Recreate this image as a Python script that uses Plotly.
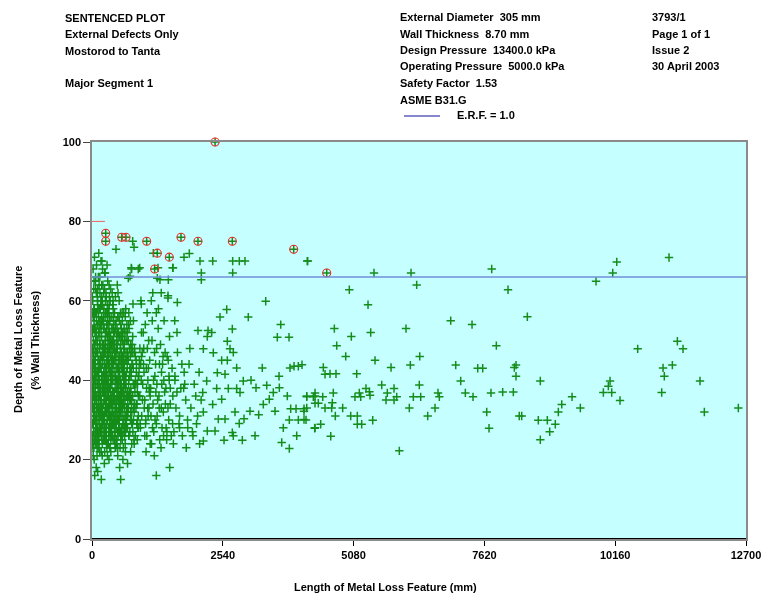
import plotly.graph_objects as go

# ---- Defect data: length (mm) and depth (% wall thickness) ----
# Dense population of short defects
cluster_len = [
    25, 60, 95, 130, 170, 210, 250, 290, 330, 370, 410, 450, 490, 530, 570, 610, 650, 700, 750, 800,
    40, 75, 115, 150, 190, 230, 270, 310, 350, 390, 430, 470, 510, 550, 590, 630, 675, 720, 770, 820,
    15, 50, 85, 120, 160, 200, 240, 280, 320, 360, 400, 440, 480, 520, 560, 600, 640, 690, 740, 790,
    30, 70, 105, 140, 180, 220, 260, 300, 340, 380, 420, 460, 500, 540, 580, 620, 660, 710, 760, 840,
    20, 55, 90, 125, 165, 205, 245, 285, 325, 365, 405, 445, 485, 525, 565, 605, 645, 695, 745, 860,
    35, 80, 110, 145, 185, 225, 265, 305, 345, 385, 425, 465, 505, 545, 585, 625, 665, 715, 765, 880,
    10, 45, 100, 135, 175, 215, 255, 295, 335, 375, 415, 455, 495, 535, 575, 615, 655, 705, 755, 900,
    28, 65, 98, 138, 178, 218, 258, 298, 338, 378, 418, 458, 498, 538, 578, 618, 668, 718, 780, 920,
    18, 58, 92, 128, 168, 208, 248, 288, 328, 368, 408, 448, 488, 528, 568, 608, 648, 698, 748, 940,
    38, 72, 108, 148, 188, 228, 268, 308, 348, 388, 428, 468, 508, 548, 588, 628, 672, 722, 772, 960,
    22, 48, 68, 88, 112, 132, 152, 172, 192, 212, 232, 252, 272, 292, 312, 332, 352, 372, 392, 412,
    12, 32, 52, 78, 102, 122, 142, 162, 182, 202, 222, 242, 262, 282, 302, 322, 342, 362, 382, 402,
    42, 62, 82, 118, 158, 198, 238, 278, 318, 358, 398, 438, 478, 518, 558, 598, 638, 682, 732, 785,
    8, 26, 46, 66, 86, 106, 126, 146, 166, 186, 206, 226, 246, 266, 286, 306, 326, 346, 366, 386,
    16, 36, 56, 76, 96, 116, 136, 156, 176, 196, 216, 236, 256, 276, 296, 316, 336, 356, 376, 396,
    420, 445, 470, 495, 520, 545, 570, 595, 620, 645, 670, 695, 725, 750, 775, 805, 830, 855, 885, 915,
    435, 460, 485, 510, 535, 560, 585, 610, 635, 660, 685, 710, 735, 760, 790, 815, 845, 870, 900, 930,
    980, 1010, 1040, 1075, 1105, 1140, 1170, 1200, 1235, 1265, 1300, 1330, 1360, 1395, 1425, 1460, 1490, 1520, 1555, 1590,
    995, 1025, 1060, 1090, 1120, 1155, 1185, 1220, 1250, 1285, 1315, 1345, 1380, 1410, 1440, 1475, 1505, 1540, 1570, 1610,
    1630, 1660, 1690, 1725, 1755, 1790, 1820, 1855, 1885, 1920, 1950, 1985, 2015, 2050, 2080, 950, 1070, 1180, 1290, 1400,
    1050, 1130, 1210, 1340, 1450, 1580, 1700, 1830, 1960, 2090, 960, 1100, 1240, 1370, 1500, 1650, 1780, 1900, 2030, 2120,
    52, 181, 557, 1249, 1509, 538, 110, 240, 330, 690, 150, 300, 450, 600, 750, 200, 350, 500, 650, 820,
    14, 44, 74, 104, 134, 164, 194, 224, 254, 284, 314, 344, 374, 404, 434, 464, 494, 524, 554, 584,
    29, 59, 89, 119, 149, 179, 209, 239, 269, 299, 329, 359, 389, 419, 449, 479, 509, 539, 569, 599,
    614, 644, 674, 704, 734, 764, 794, 824, 854, 884, 624, 654, 684, 714, 744, 774, 804, 834, 864, 894,
    6, 24, 41, 59, 77, 94, 113, 131, 149, 167, 184, 203, 221, 239, 257, 276, 294, 311, 329, 347,
    366, 384, 402, 421, 439, 457, 476, 494, 512, 531, 549, 567, 586, 604, 622, 641, 659, 677, 696, 714,
    11, 33, 57, 81, 103, 127, 151, 173, 197, 219, 243, 267, 289, 313, 337, 361, 383, 407, 431, 453,
    733, 751, 769, 787, 806, 824, 842, 861, 879, 897, 477, 499, 521, 543, 567, 589, 611, 633, 657, 679,
    19, 49, 79, 109, 139, 169, 199, 229, 259, 289, 319, 349, 379, 409, 439, 469, 499, 529, 559, 589,
    1000, 1045, 1085, 1130, 1175, 1215, 1260, 1305, 1350, 1390, 1435, 1480, 1520, 1565, 1610, 1650, 1700, 1745, 1800, 1860,
    935, 955, 975, 1015, 1035, 1065, 1095, 1115, 1145, 1165, 1195, 1225, 1255, 1275, 1310, 1355, 1385, 1420, 1455, 1495,
    5, 21, 37, 53, 69, 85, 101, 117, 133, 149, 165, 181, 197, 213, 229, 245, 261, 277, 293, 309,
    325, 341, 357, 373, 389, 405, 421, 437, 453, 469, 485, 501, 517, 533, 549, 565, 581, 597, 613, 629,
    9, 27, 43, 61, 79, 97, 113, 129, 147, 163, 181, 199, 215, 233, 249, 267, 283, 301, 317, 335,
    351, 369, 387, 403, 419, 437, 453, 471, 487, 505, 521, 539, 555, 573, 589, 607, 623, 641, 661, 681,
    13, 31, 47, 63, 83, 99, 115, 137, 153, 171, 187, 205, 223, 241, 259, 275, 291, 309, 327, 343,
    361, 379, 397, 415, 433, 451, 467, 483, 503, 519, 537, 553, 571, 587, 603, 621, 639, 663, 687, 709,
    7, 23, 39, 55, 71, 87, 107, 123, 139, 155, 171, 189, 207, 225, 243, 263, 279, 297, 315, 333,
    727, 745, 763, 783, 801, 819, 837, 857, 875, 893, 911, 929, 947, 965, 985, 1005, 1025, 1055, 1080, 1110,
    4, 17, 34, 51, 66, 83, 96, 111, 126, 141, 156, 172, 187, 202, 218, 234, 249, 264, 281, 296,
    312, 327, 343, 358, 374, 391, 406, 422, 438, 455, 471, 488, 504, 521, 538, 556, 574, 592, 611, 632,
    2, 19, 36, 54, 72, 88, 106, 121, 136, 152, 169, 186, 201, 217, 232, 247, 263, 279, 295, 311,
    328, 345, 362, 377, 394, 411, 428, 446, 463, 481, 497, 515, 532, 551, 570, 588, 606, 626, 646, 666,
    3, 15, 29, 45, 58, 73, 88, 103, 118, 133, 148, 163, 178, 193, 209, 227, 244, 262, 280, 298,
    316, 334, 352, 371, 390, 409, 427, 447, 466, 486, 506, 526, 547, 568, 590, 612, 636, 660, 686, 712,
    10, 24, 40, 57, 74, 91, 109, 125, 143, 160, 177, 194, 211, 228, 246, 265, 284, 303, 322, 341,
    360, 381, 400, 420, 441, 462, 483, 505, 527, 549, 571, 593, 617, 640, 664, 689, 714, 740, 766, 793,
]
cluster_depth = [
    31, 44, 27, 52, 36, 29, 47, 33, 58, 41, 25, 38, 49, 30, 43, 35, 27, 46, 32, 39,
    55, 24, 39, 30, 61, 42, 28, 50, 35, 46, 57, 29, 37, 48, 26, 44, 36, 53, 29, 34,
    38, 49, 62, 23, 45, 55, 35, 40, 26, 63, 33, 52, 24, 40, 54, 31, 47, 28, 43, 51,
    27, 66, 33, 58, 22, 37, 60, 24, 44, 30, 48, 41, 56, 34, 38, 27, 52, 39, 47, 26,
    46, 35, 57, 41, 28, 68, 31, 54, 38, 22, 59, 27, 43, 56, 31, 49, 24, 34, 55, 42,
    63, 29, 48, 36, 51, 25, 43, 65, 29, 53, 37, 45, 32, 23, 50, 40, 33, 57, 30, 37,
    34, 58, 42, 26, 70, 47, 56, 37, 51, 27, 44, 61, 39, 46, 28, 36, 58, 45, 38, 31,
    50, 40, 21, 64, 33, 39, 25, 46, 61, 35, 29, 33, 52, 42, 37, 57, 30, 26, 49, 45,
    24, 52, 36, 45, 59, 31, 67, 29, 34, 48, 53, 26, 31, 60, 45, 23, 41, 50, 35, 28,
    43, 30, 54, 28, 41, 62, 38, 57, 23, 42, 31, 55, 27, 38, 52, 33, 45, 37, 24, 52,
    68, 71, 65, 69, 63, 72, 66, 60, 70, 64, 58, 67, 62, 69, 57, 64, 60, 56, 62, 58,
    29, 36, 31, 47, 25, 34, 40, 27, 35, 49, 30, 41, 33, 52, 39, 28, 55, 37, 45, 26,
    20, 26, 18, 32, 38, 21, 30, 35, 43, 31, 40, 47, 35, 28, 34, 42, 39, 33, 41, 29,
    41, 53, 33, 38, 29, 61, 45, 32, 37, 26, 44, 53, 36, 48, 41, 33, 47, 42, 25, 39,
    57, 33, 45, 53, 39, 30, 27, 55, 43, 33, 27, 35, 50, 27, 59, 45, 31, 46, 40, 50,
    44, 35, 49, 40, 33, 51, 39, 46, 30, 38, 42, 31, 48, 37, 44, 33, 47, 39, 30, 43,
    28, 53, 30, 45, 36, 27, 57, 34, 50, 29, 36, 54, 27, 41, 36, 25, 40, 29, 36, 48,
    35, 42, 29, 48, 33, 38, 55, 27, 44, 31, 36, 49, 28, 40, 34, 46, 30, 38, 43, 27,
    52, 26, 38, 31, 45, 24, 34, 41, 29, 53, 25, 33, 46, 37, 28, 33, 51, 26, 36, 40,
    33, 47, 29, 38, 26, 42, 35, 30, 44, 33, 27, 39, 36, 31, 42, 60, 57, 62, 58, 55,
    22, 24, 21, 23, 25, 24, 28, 23, 26, 24, 46, 50, 37, 44, 40, 52, 38, 48, 29, 35,
    16, 15, 15, 16, 18, 18, 17, 19, 20, 19, 22, 21, 23, 20, 22, 24, 23, 21, 22, 24,
    33, 41, 50, 28, 37, 46, 25, 54, 32, 43, 38, 49, 29, 34, 45, 40, 27, 46, 36, 43,
    47, 27, 35, 44, 53, 31, 40, 48, 27, 36, 54, 31, 41, 50, 24, 33, 42, 28, 47, 37,
    38, 45, 31, 50, 35, 42, 27, 48, 33, 39, 52, 29, 43, 36, 46, 32, 55, 37, 44, 28,
    26, 38, 44, 30, 51, 36, 28, 42, 48, 32, 56, 39, 46, 25, 35, 44, 30, 41, 49, 33,
    42, 31, 37, 55, 28, 47, 35, 43, 30, 51, 39, 33, 44, 29, 48, 35, 41, 54, 32, 40,
    52, 45, 39, 34, 42, 56, 49, 38, 29, 54, 40, 32, 57, 46, 35, 51, 28, 44, 35, 54,
    37, 49, 35, 44, 30, 39, 46, 34, 25, 41, 51, 43, 35, 45, 39, 55, 42, 26, 38, 47,
    23, 30, 25, 59, 24, 33, 60, 31, 39, 23, 47, 26, 34, 60, 30, 28, 23, 33, 25, 52,
    44, 30, 40, 36, 28, 47, 39, 33, 42, 26, 38, 45, 34, 29, 41, 37, 31, 44, 39, 28,
    29, 40, 47, 33, 54, 26, 43, 37, 31, 50, 40, 30, 48, 35, 44, 39, 32, 47, 27, 41,
    35, 48, 23, 42, 57, 31, 50, 38, 27, 43, 33, 51, 41, 29, 46, 37, 52, 26, 45, 31,
    36, 44, 27, 49, 33, 40, 52, 25, 41, 35, 47, 30, 39, 55, 32, 44, 28, 50, 34, 42,
    44, 29, 56, 36, 24, 47, 54, 32, 40, 58, 26, 45, 38, 53, 29, 42, 34, 48, 37, 56,
    28, 50, 43, 32, 54, 37, 46, 29, 53, 36, 44, 31, 49, 26, 41, 35, 53, 40, 31, 45,
    53, 40, 34, 47, 36, 23, 39, 51, 33, 46, 40, 31, 57, 44, 33, 25, 38, 54, 43, 48,
    39, 26, 46, 35, 49, 31, 43, 38, 27, 45, 34, 57, 37, 45, 29, 48, 36, 28, 52, 33,
    61, 56, 65, 49, 63, 55, 60, 66, 58, 62, 54, 64, 59, 56, 63, 57, 61, 55, 52, 59,
    41, 30, 48, 36, 43, 32, 39, 45, 34, 28, 41, 36, 44, 31, 39, 48, 35, 43, 33, 38,
    48, 39, 30, 53, 45, 27, 41, 58, 36, 30, 49, 43, 28, 37, 55, 31, 39, 47, 24, 36,
    46, 33, 55, 41, 29, 48, 36, 45, 57, 30, 40, 48, 35, 43, 27, 38, 51, 33, 46, 39,
    29, 25, 58, 32, 41, 52, 26, 45, 55, 38, 31, 59, 48, 34, 42, 28, 50, 32, 57, 44,
    31, 52, 34, 44, 26, 56, 42, 33, 47, 25, 39, 52, 31, 40, 47, 25, 37, 44, 56, 30,
    37, 60, 47, 25, 36, 43, 31, 49, 26, 52, 43, 35, 55, 46, 33, 49, 27, 40, 35, 51,
    24, 38, 49, 36, 44, 31, 52, 40, 32, 48, 26, 42, 36, 53, 34, 44, 28, 39, 47, 36,
    42, 21, 37, 40, 28, 33, 47, 25, 44, 35, 53, 29, 41, 48, 22, 36, 45, 30, 40, 27,
    34, 41, 29, 37, 45, 23, 37, 50, 41, 27, 35, 46, 40, 31, 50, 37, 26, 43, 34, 47,
]

# Longer, more scattered defects
scatter_len = [
    466, 790, 816, 899, 770, 1567, 1191, 705, 738, 1268, 1320, 1482, 1787, 1890, 2097, 2344,
    2732, 2861, 2971, 2123, 2123, 2732, 4189, 763, 926, 1282, 1573, 491, 505, 796, 958, 1152,
    1249, 1606, 1657, 1476, 2058, 2253, 1345, 1475,
    3373, 2616, 2486, 3035, 3665, 2725, 3599, 3826, 2239, 2324, 2628, 2162, 2680, 2744, 2356,
    2518, 2628, 2809, 3307, 3845, 3923, 4007, 2434, 2583, 3632, 2227, 2938, 3088, 3393, 3638,
    2421, 2647, 2809, 3185, 2150, 2874, 3521, 3793, 4170, 4331, 3443, 2518, 2343, 3327, 2162,
    2777, 3068, 3554, 3858, 3962, 4117, 3237, 2453, 2583, 2952, 3832, 4007, 4156, 2860, 3715,
    4331, 2239, 2389, 2725, 2744, 3166, 3975, 2564, 2919, 3684, 3832, 2162,
    4180, 5476, 6195, 7762, 4997, 6305, 8079, 5360, 6966, 7380, 8454, 4706, 5412, 6098, 5036,
    4752, 7852, 4927, 6364, 5496, 4078, 5807, 6182, 7063, 7490, 7587, 8201, 8234, 8234, 4492,
    4525, 4622, 4738, 5140, 7160, 5626, 5865, 6356, 5321, 5386, 4331, 4686, 5191, 5735, 6719,
    7250, 7748, 7975, 8182, 4170, 4298, 4480, 5107, 5218, 5399, 5917, 5710, 5865, 6240, 6383,
    6745, 7399, 4331, 4395, 4667, 4868, 4525, 4654, 4117, 4170, 6162, 6661, 4725, 5024, 5152,
    6519, 8298, 7665, 5451, 4117, 5152, 5237, 4441, 4324, 7710, 4636, 5968,
    11205, 10190, 10112, 9788, 11367, 11477, 10597, 11089, 11270, 11114, 8706, 10060, 10027,
    11807, 9930, 10092, 11063, 9322, 10254, 9122, 9483, 9056, 11891, 12551, 8345, 8667, 8842,
    8997, 8888, 8706,
]
scatter_depth = [
    73, 75, 73.5, 68, 68, 68.3, 72, 65.7, 66.2, 65.7, 65.3, 65.3, 71, 71.9, 70, 70,
    70, 70, 70, 67, 65.3, 67, 70, 68.3, 68.3, 68.3, 68.3, 64, 62, 59.2, 59.2, 60,
    57, 55, 59.6, 61.3, 52.5, 52.5, 62, 60.7,
    59.9, 57.8, 55.9, 55.9, 54, 52.9, 50.8, 50.8, 51, 52, 49.8, 47.9, 47.9, 47, 46.9,
    45, 45, 43.1, 43.1, 43.1, 43.5, 43.5, 41.9, 41.5, 41, 39.8, 39.8, 40, 38.7, 38.1,
    37.9, 37.9, 37.9, 38.1, 36.9, 36.9, 36.9, 36, 36, 36, 35.2, 35.2, 33.9, 33.9, 32,
    32, 32.2, 32.2, 32.8, 32.8, 32.8, 31.3, 30.2, 30.2, 30.3, 30, 30, 30, 29.1, 28,
    28, 27.2, 27.2, 26.8, 26, 26, 26, 24.9, 24.9, 24.3, 22.8, 24.7,
    70, 67, 67, 68, 62.8, 64, 62.8, 59, 55, 54, 56, 53, 52, 53, 51,
    48.7, 48.7, 46, 46, 45, 43.9, 43.2, 43.8, 43.8, 43, 43, 43.2, 43.8, 41, 43.2,
    41.5, 41.6, 41.6, 41.6, 39.8, 38.8, 37.9, 38.8, 37.9, 37.1, 36.8, 36.8, 36.8, 36.8, 36.8,
    36.8, 36.8, 37, 37, 35.8, 35.8, 35.8, 35.8, 35.8, 36.2, 35.8, 35, 35, 35.8, 35.8,
    35.8, 35.8, 34.2, 34.2, 34.3, 33, 33, 33, 32.2, 33, 33, 33, 31, 31, 31,
    31, 31, 32, 29.9, 30.1, 28.9, 28.9, 28.9, 27.9, 27.9, 25.9, 22.2,
    70.9, 69.8, 67, 64.9, 49.8, 47.9, 47.9, 43.1, 43.8, 41, 39.8, 39.8, 38.5,
    39.8, 36.9, 36.9, 36.9, 35.8, 34.9, 33.9, 33, 32, 32, 33, 31, 29.9, 29.9,
    28.9, 27, 25,
]

# Defects flagged as exceeding the E.R.F. = 1.0 curve
flag_len = [2390, 266, 266, 577, 660, 1062, 1728, 2058, 2725, 1268, 1501, 1217, 3917, 4558]
flag_depth = [100, 77, 75, 76, 76, 75, 76, 75, 75, 72, 71, 68, 73, 67]

erf_depth = 66          # E.R.F. = 1.0 acceptance depth
limit_depth = 80        # 80 % wall-thickness limit marker
x_ticks = [0, 2540, 5080, 7620, 10160, 12700]
y_ticks = [0, 20, 40, 60, 80, 100]

GREEN = "#008000"
RED = "#e8302a"
FONT = "Liberation Sans, Arial, sans-serif"

cross = dict(symbol="cross-thin", size=6, line=dict(color=GREEN, width=1.5), color=GREEN)

fig = go.Figure()
fig.add_trace(go.Scatter(x=cluster_len, y=cluster_depth, mode="markers",
                         marker=cross, opacity=0.9, hoverinfo="x+y"))
fig.add_trace(go.Scatter(x=scatter_len, y=scatter_depth, mode="markers",
                         marker=cross, opacity=0.9, hoverinfo="x+y"))
fig.add_trace(go.Scatter(x=flag_len, y=flag_depth, mode="markers", cliponaxis=False,
                         marker=cross, opacity=0.9, hoverinfo="x+y"))
fig.add_trace(go.Scatter(x=flag_len, y=flag_depth, mode="markers", cliponaxis=False,
                         marker=dict(symbol="circle-open", size=8, color=RED,
                                     line=dict(color=RED, width=1.1)),
                         hoverinfo="x+y"))

# E.R.F. line across the plot
fig.add_shape(type="line", xref="x", yref="y", x0=0, x1=x_ticks[-1],
              y0=erf_depth, y1=erf_depth, line=dict(color="#6f8fd8", width=1.6))
# short red limit marker on the depth axis
fig.add_shape(type="line", xref="x", yref="y", x0=0, x1=250,
              y0=limit_depth, y1=limit_depth, line=dict(color="#f06060", width=1))
# heavy baseline
fig.add_shape(type="line", xref="x", yref="y", x0=0, x1=x_ticks[-1], y0=0, y1=0,
              line=dict(color="black", width=2))

# page geometry (pixels) used to place header text in paper coordinates
W, H = 761, 594
L, R, T, B = 92, 15, 142, 55
pw, ph = W - L - R, H - T - B


def px(x):
    return (x - L) / pw


def py(y):
    return (H - B - y) / ph


def label(text, x, y, xanchor="left", size=11, angle=0):
    fig.add_annotation(text=text, x=px(x), y=py(y), xref="paper", yref="paper",
                       xanchor=xanchor, yanchor="middle", showarrow=False,
                       textangle=angle, font=dict(size=size, family=FONT, color="black"))


left_col = ["SENTENCED PLOT", "External Defects Only", "Mostorod to Tanta", "", "Major Segment 1"]
mid_col = ["External Diameter  305 mm", "Wall Thickness  8.70 mm",
           "Design Pressure  13400.0 kPa", "Operating Pressure  5000.0 kPa",
           "Safety Factor  1.53", "ASME B31.G"]
right_col = ["3793/1", "Page 1 of 1", "Issue 2", "30 April 2003"]

for i, t in enumerate(left_col):
    if t:
        label(t, 63, 17.5 + 16.5 * i)
for i, t in enumerate(mid_col):
    label(t, 398, 17 + 16.5 * i)
for i, t in enumerate(right_col):
    label(t, 650, 17 + 16.5 * i)

# legend entry for the E.R.F. line
fig.add_shape(type="line", xref="paper", yref="paper", x0=px(404), x1=px(440),
              y0=py(116), y1=py(116), line=dict(color="#1010a0", width=1.2))
label("E.R.F. = 1.0", 455, 115)

# axis titles
label("Length of Metal Loss Feature (mm)", 385, 587, xanchor="center")
label("Depth of Metal Loss Feature", 18, 340, xanchor="center", angle=-90)
label("(% Wall Thickness)", 35, 340, xanchor="center", angle=-90)

fig.update_layout(
    width=W, height=H,
    margin=dict(l=L, r=R, t=T, b=B, autoexpand=False),
    paper_bgcolor="white", plot_bgcolor="#c6ffff",
    showlegend=False,
    font=dict(family=FONT, size=11, color="black", weight="bold"),
)
fig.update_xaxes(range=[0, x_ticks[-1]], tickvals=x_ticks, ticktext=[str(v) for v in x_ticks],
                 showgrid=False, zeroline=False, showline=True, linecolor="#8a8a8a",
                 linewidth=1.5, mirror=True, ticks="outside", ticklen=5,
                 tickcolor="black", tickfont=dict(size=11), ticklabeloverflow="allow",
                 automargin=False)
fig.update_yaxes(range=[0, 100], tickvals=y_ticks, showgrid=False, zeroline=False,
                 showline=True, linecolor="#8a8a8a", linewidth=1.5, mirror=True,
                 ticks="outside", ticklen=7, tickcolor="#444", tickfont=dict(size=11),
                 automargin=False)

fig.write_html("out.html")
